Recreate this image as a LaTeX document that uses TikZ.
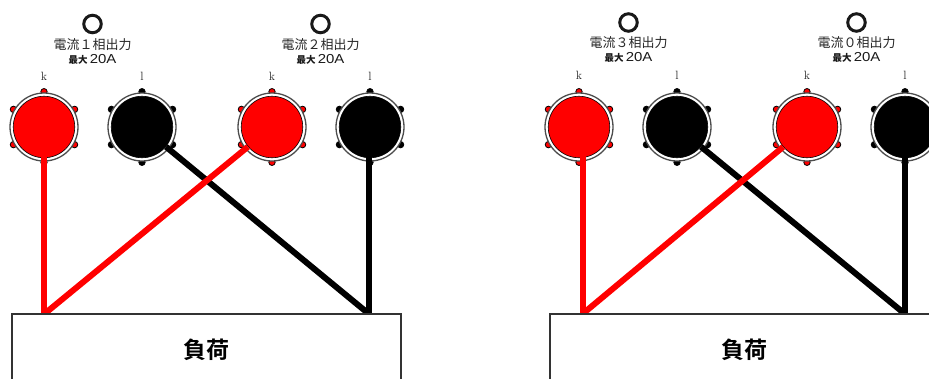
\documentclass[tikz,border=0pt]{standalone}
\usepackage{fontspec}
\newfontfamily\cjk{Noto Sans CJK JP}
\newfontfamily\cjkb{Noto Sans CJK JP Bold}
\newfontfamily\latn[FakeStretch=1.15]{Liberation Sans}
\tikzset{
  x=1pt,y=-1pt,
  lamp/.style={circle,draw=black!90,line width=3pt,fill=white,inner sep=0pt,minimum size=17.5pt},
  title/.style={inner sep=0pt,font=\cjk\fontsize{13}{13}\selectfont,text=black!85},
  rating/.style={inner sep=0pt,text=black!90},
  pole/.style={inner sep=0pt,font=\fontsize{12}{12}\selectfont,text=black!85},
  knob/.style={circle,draw=black,line width=.6pt,fill=#1,inner sep=0pt,minimum size=61.5pt},
  ring/.style={draw=black!70,line width=1.3pt,fill=white},
  wire/.style={line width=#1,line cap=butt},
  load/.style={draw=black!80,line width=1.1pt,fill=white,inner sep=0pt,minimum width=389pt,minimum height=72pt,font=\cjkb\fontsize{23}{23}\selectfont}
}
\newcommand{\terminal}[3]{%
  \foreach \a in {90,30,150,-30,-150,-90}
    \fill[#3,draw=black,line width=.8pt] (#2,127) ++(\a:35.3pt) circle (3.2pt);
  \filldraw[ring] (#2,127) circle (34pt);
  \node[knob=#3] (#1) at (#2,127) {};
}
\newcommand{\ratingtext}{{\cjk\bfseries\fontsize{9.5}{10}\selectfont 最大}{\latn\fontsize{13}{13}\selectfont\,20A}}
\begin{document}
\begin{tikzpicture}
\useasboundingbox (0,0) rectangle (929,378);
\clip (0,0) rectangle (929,378);
\coordinate (ra) at (44.3,314);
\coordinate (ba) at (369,314);
\coordinate (rb) at (582.5,314);
\coordinate (bb) at (905,314);
% terminals
\terminal{k1}{44}{red}
\terminal{l1}{142}{black}
\terminal{k2}{272}{red}
\terminal{l2}{370}{black}
\terminal{k3}{579}{red}
\terminal{l3}{677}{black}
\terminal{k4}{807}{red}
\terminal{l4}{905}{black}
% lamps and labels
\node[lamp] (m1) at (92.5,24) {};
\node[lamp] (m2) at (320.5,24) {};
\node[lamp] (m3) at (628.5,22.5) {};
\node[lamp] (m4) at (856.5,22.5) {};
\node[title] (t1) at (92.5,44.5) {電流１相出力};
\node[title] (t2) at (320.5,44.5) {電流２相出力};
\node[title] (t3) at (628.5,43) {電流３相出力};
\node[title] (t4) at (856.5,43) {電流０相出力};
\node[rating] (r1) at (92.5,59) {\ratingtext};
\node[rating] (r2) at (320.5,59) {\ratingtext};
\node[rating] (r3) at (628.5,57.5) {\ratingtext};
\node[rating] (r4) at (856.5,57.5) {\ratingtext};
\node[pole] (pk1) at (44,76.5) {k};
\node[pole] (pl1) at (142,76.5) {l};
\node[pole] (pk2) at (272,76.5) {k};
\node[pole] (pl2) at (370,76.5) {l};
\node[pole] (pk3) at (579,75.5) {k};
\node[pole] (pl3) at (677,75.5) {l};
\node[pole] (pk4) at (807,75.5) {k};
\node[pole] (pl4) at (905,75.5) {l};
% wires
\draw[wire=6pt,black] (l1) -- (ba);
\draw[wire=6pt,black] (ba |- l2) -- (ba);
\draw[wire=6pt,red] (ra |- k1) -- (ra);
\draw[wire=6pt,red] (k2) -- (ra);
\draw[wire=6pt,black] (l3) -- (bb);
\draw[wire=6pt,black] (bb |- l4) -- (bb);
\draw[wire=6pt,red] (rb |- k3) -- (rb);
\draw[wire=6pt,red] (k4) -- (rb);
% loads
\node[load] (loadA) at (206.5,350) {負荷};
\node[load] (loadB) at (744.5,350) {負荷};
\end{tikzpicture}
\end{document}
